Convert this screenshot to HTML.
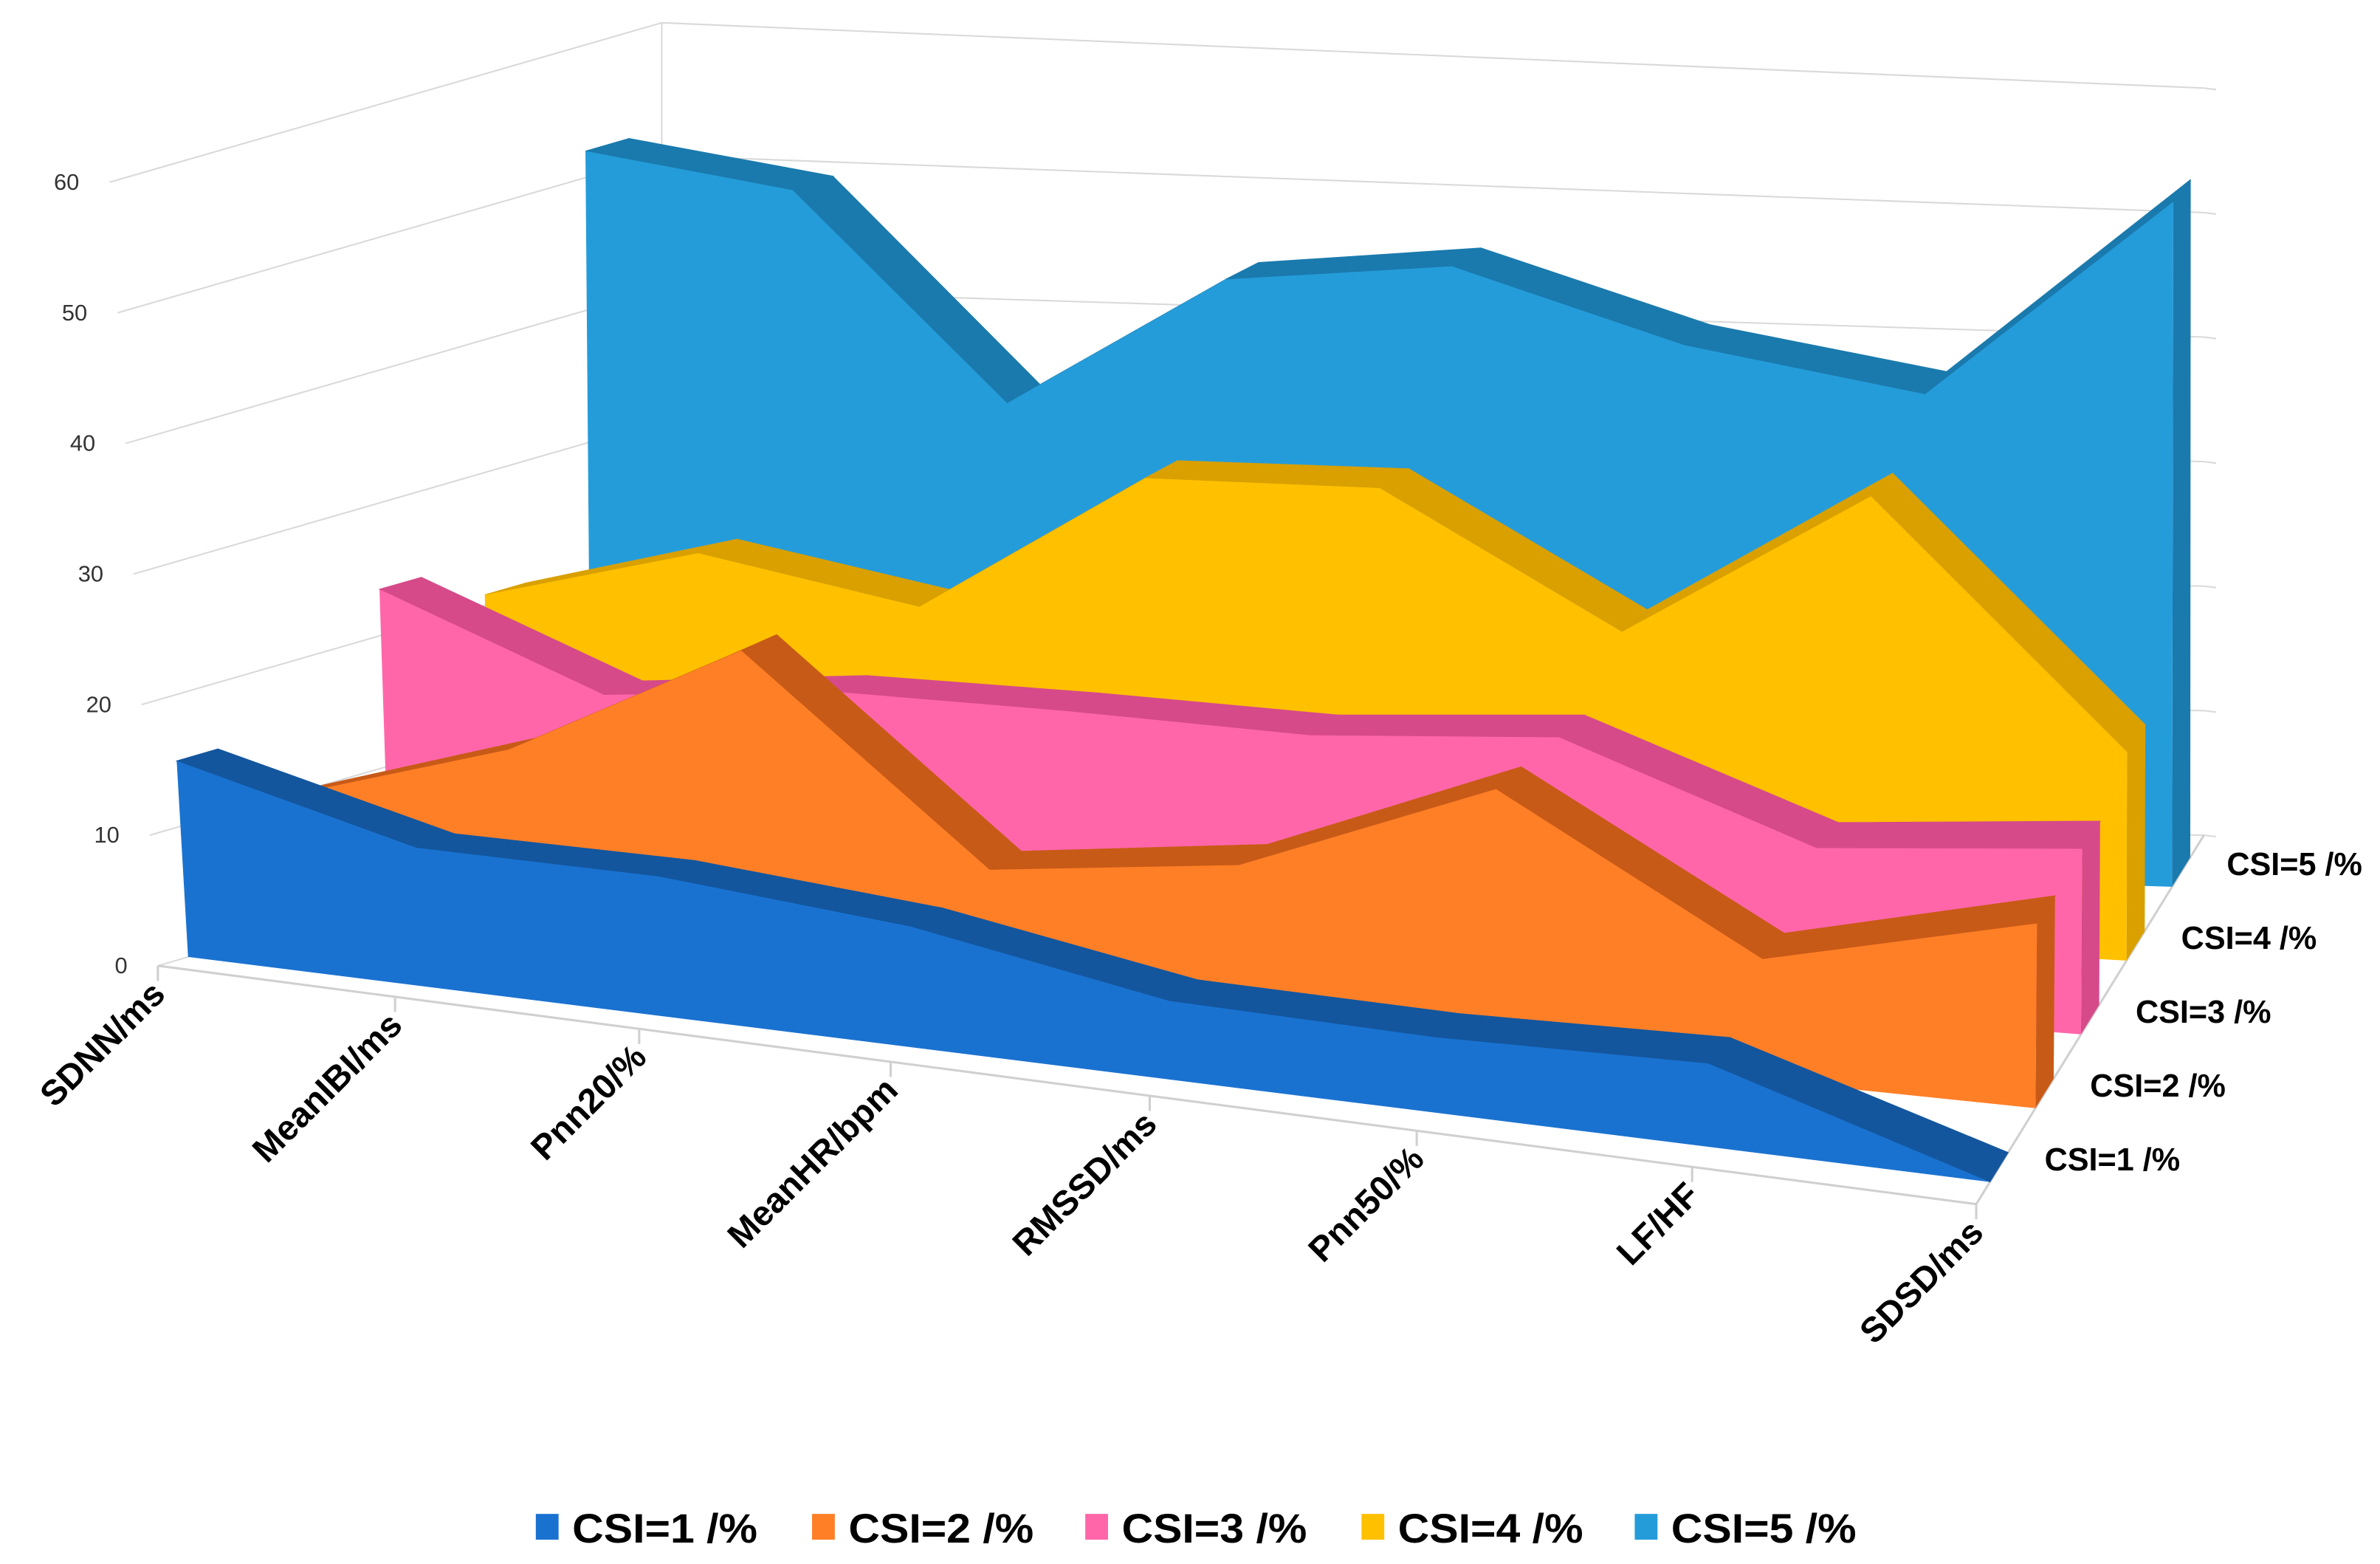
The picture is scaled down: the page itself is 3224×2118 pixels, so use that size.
<!DOCTYPE html>
<html><head><meta charset="utf-8"><style>
html,body{margin:0;padding:0;background:#fff}
svg{display:block}
text{font-family:"Liberation Sans",sans-serif}
</style></head><body>
<svg width="3224" height="2118" viewBox="0 0 1568 1030" preserveAspectRatio="none" xmlns="http://www.w3.org/2000/svg">
<g id="grid"></g>
<g id="series"></g>
<g id="labels"></g>
<g id="legend"></g>
</svg>
<script>
const categories = ["SDNN/ms","MeanIBI/ms","Pnn20/%","MeanHR/bpm","RMSSD/ms","Pnn50/%","LF/HF","SDSD/ms"];
const seriesNames = ["CSI=1 /%","CSI=2 /%","CSI=3 /%","CSI=4 /%","CSI=5 /%"];
const csi1 = [15.0, 10.5, 10.5, 9.0, 5.8, 5.5, 6.0, 0.0];
const csi2 = [10.0, 15.3, 24.5, 9.8, 12.0, 19.5, 8.9, 13.5];
const csi3 = [23.5, 16.8, 18.4, 18.3, 17.9, 19.2, 12.4, 13.9];
const csi4 = [20.8, 24.9, 21.8, 32.6, 32.9, 23.0, 34.5, 16.0];
const csi5 = [52.0, 49.8, 34.3, 44.5, 46.3, 41.0, 38.0, 54.0];
const yTicks = [0,10,20,30,40,50,60];

const allSeries=[csi1,csi2,csi3,csi4,csi5];
const faceCol=["#1a72d0","#ff7f27","#ff66aa","#ffc000","#259cda"];
const bandCol=["#13569e","#c85a17","#d64a8a","#d9a000","#1a7aad"];
const NS="http://www.w3.org/2000/svg";
const FL=[104,636],FR=[1302,793],BL=[436,540],BR=[1452,550];
function bil(a,b,c,d,u,w){return (a*(1-u)+b*u)*(1-w)+(c*(1-u)+d*u)*w;}
function persp(u){const r=0.9;return u*r/(1+(r-1)*u);}
function P(u0,w,v){
  const u=persp(u0);
  const bx=bil(FL[0],FR[0],BL[0],BR[0],u,w), by=bil(FL[1],FR[1],BL[1],BR[1],u,w);
  const k=bil(8.6,9.3,8.75,8.2,u,w), s=bil(-0.53,0.1,0,0,u,w);
  return [bx+s*v, by-k*v];
}
function el(tag,attrs,parent){const e=document.createElementNS(NS,tag);for(const a in attrs)e.setAttribute(a,attrs[a]);parent.appendChild(e);return e;}
function pts(a){return a.map(p=>p[0].toFixed(1)+","+p[1].toFixed(1)).join(" ");}
const grid=document.getElementById('grid');
const nC=categories.length;
yTicks.forEach(v=>{
  const a=P(0,0,v),b=P(0,1,v),c=P(1,1,v);
  const l=el('polyline',{points:pts([a,b,c]),fill:'none',stroke:'#d9d9d9','stroke-width':1},grid);
  
  
  const t=el('line',{x1:c[0],y1:c[1],x2:c[0]+8,y2:c[1]+1,stroke:'#d9d9d9','stroke-width':1},grid);
  
  
});
const lv=el('line',{x1:P(0,1,0)[0],y1:P(0,1,0)[1],x2:P(0,1,60)[0],y2:P(0,1,60)[1],stroke:'#d9d9d9'},grid);


const fe=el('polyline',{points:pts([P(0,0,0),P(1,0,0),P(1,1,0)]),fill:'none',stroke:'#d0d0d0','stroke-width':1.5},grid);


for(let i=0;i<nC;i++){const p=P(i/(nC-1),0,0);
  const t=el('line',{x1:p[0],y1:p[1],x2:p[0],y2:p[1]+10,stroke:'#d0d0d0','stroke-width':1.5},grid);
  
  }

const sg=document.getElementById('series');
for(let d=allSeries.length-1;d>=0;d--){
  const vals=allSeries[d];const wf=(d+0.3)/5,wb=(d+0.7)/5;
  const g=el('g',{},sg);
  
  
  for(let i=0;i<nC-1;i++){
    const u0=i/(nC-1),u1=(i+1)/(nC-1);
    const q=el('polygon',{points:pts([P(u0,wf,vals[i]),P(u1,wf,vals[i+1]),P(u1,wb,vals[i+1]),P(u0,wb,vals[i])]),fill:bandCol[d],stroke:bandCol[d],'stroke-width':0.5},g);
    
    
  }
  const v7=vals[nC-1];
  const r=el('polygon',{points:pts([P(1,wf,v7),P(1,wf,0),P(1,wb,0),P(1,wb,v7)]),fill:bandCol[d]},g);
  
  
  const fp=[];for(let i=0;i<nC;i++)fp.push(P(i/(nC-1),wf,vals[i]));
  fp.push(P(1,wf,0));fp.push(P(0,wf,0));
  const f=el('polygon',{points:pts(fp),fill:faceCol[d]},g);
  
  
}

const lg=document.getElementById('labels');
yTicks.forEach(v=>{const p=P(0,0,v);
  const t=el('text',{x:p[0]-20,y:p[1]+5,'text-anchor':'end','font-size':15,fill:'#333'},lg);
  t.textContent=v;
  
  });
categories.forEach((c,i)=>{const p=P(i/(nC-1),0,0);
  const x=p[0]+6,y=p[1]+20;
  const t=el('text',{x:x,y:y,'text-anchor':'end','font-size':23,'font-weight':'bold',fill:'#000',transform:`rotate(-45 ${x} ${y})`},lg);
  t.textContent=c;
  
  });
seriesNames.forEach((n,d)=>{const p=P(1,(d+0.5)/5,0);
  const t=el('text',{x:p[0]+30,y:p[1]+2,'font-size':21,'font-weight':'bold',fill:'#000'},lg);
  t.textContent=n;
  
  });

const leg=document.getElementById('legend');
const legX=[353,535,715,897,1077];
seriesNames.forEach((n,d)=>{
  const g=el('g',{},leg);
  
  
  el('rect',{x:legX[d],y:997,width:15,height:17,fill:faceCol[d]},g);
  const t=el('text',{x:legX[d]+24,y:1016,'font-size':27,'font-weight':'bold',fill:'#000',textLength:122,lengthAdjust:'spacingAndGlyphs'},g);
  t.textContent=n;
});
</script>
</body></html>
